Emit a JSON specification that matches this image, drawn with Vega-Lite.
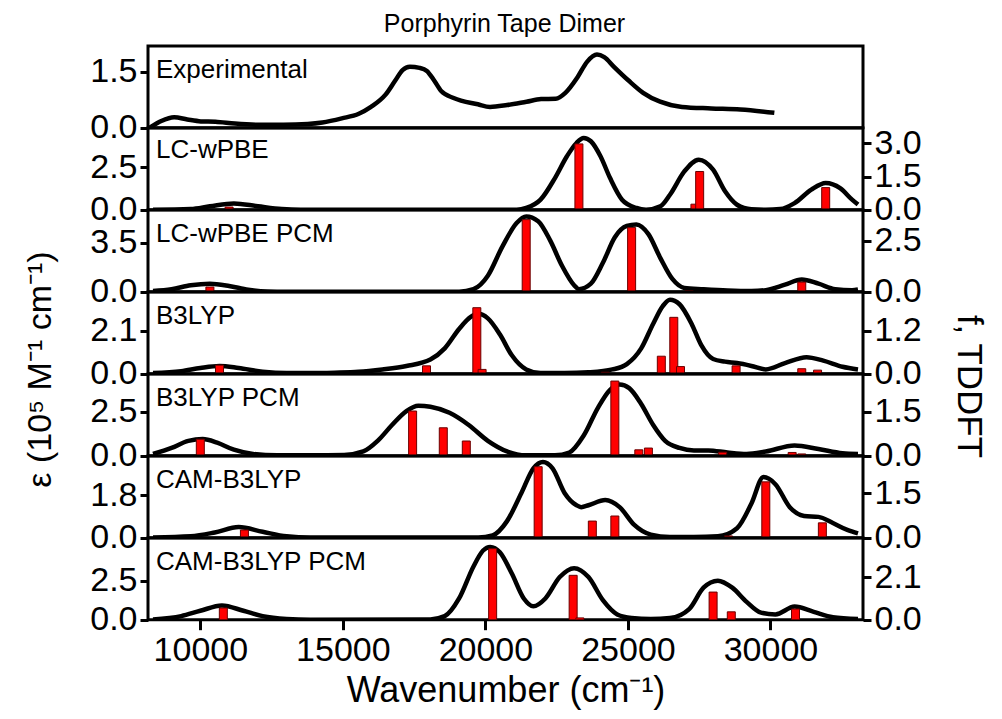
{
  "$schema": "https://vega.github.io/schema/vega-lite/v6.json",
  "background": "white",
  "autosize": {"type": "pad"},
  "padding": {"left": 22, "top": 11, "right": 0, "bottom": 0},
  "title": {"text": "Porphyrin Tape Dimer", "font": "Liberation Sans", "fontSize": 25, "fontWeight": "normal", "color": "black", "anchor": "middle", "offset": 8},
  "bounds": "flush",
  "spacing": 0,
  "config": {
    "view": {"stroke": "black", "strokeWidth": 3},
    "axis": {
      "domain": false, "grid": false,
      "labelFont": "Liberation Sans", "labelFontSize": 34, "labelColor": "black", "labelPadding": 3, "labelOverlap": false,
      "tickColor": "black", "tickWidth": 3, "tickSize": 8,
      "titleFont": "Liberation Sans", "titleFontWeight": "normal", "titleColor": "black"
    },
    "title": {"font": "Liberation Sans", "fontWeight": "normal", "color": "black"}
  },
  "datasets": {
    "exp_curve": [
      {"wn": 8400, "eps": 0.0}, {"wn": 8800, "eps": 0.18}, {"wn": 9244, "eps": 0.28}, {"wn": 9700, "eps": 0.22},
      {"wn": 10168, "eps": 0.17}, {"wn": 10673, "eps": 0.16}, {"wn": 11345, "eps": 0.11}, {"wn": 12186, "eps": 0.08},
      {"wn": 13026, "eps": 0.08}, {"wn": 13867, "eps": 0.10}, {"wn": 14371, "eps": 0.14}, {"wn": 15043, "eps": 0.25},
      {"wn": 15632, "eps": 0.375}, {"wn": 16052, "eps": 0.56}, {"wn": 16556, "eps": 0.89}, {"wn": 16892, "eps": 1.27},
      {"wn": 17144, "eps": 1.55}, {"wn": 17397, "eps": 1.64}, {"wn": 17733, "eps": 1.61}, {"wn": 17985, "eps": 1.53},
      {"wn": 18237, "eps": 1.27}, {"wn": 18489, "eps": 0.98}, {"wn": 18910, "eps": 0.80}, {"wn": 19750, "eps": 0.63},
      {"wn": 20170, "eps": 0.56}, {"wn": 20759, "eps": 0.61}, {"wn": 21431, "eps": 0.70}, {"wn": 21935, "eps": 0.77},
      {"wn": 22440, "eps": 0.78}, {"wn": 22776, "eps": 0.94}, {"wn": 23196, "eps": 1.36}, {"wn": 23532, "eps": 1.78},
      {"wn": 23868, "eps": 1.97}, {"wn": 24121, "eps": 1.90}, {"wn": 24457, "eps": 1.64}, {"wn": 24961, "eps": 1.27},
      {"wn": 25465, "eps": 0.94}, {"wn": 26053, "eps": 0.70}, {"wn": 26810, "eps": 0.56}, {"wn": 27819, "eps": 0.52},
      {"wn": 28827, "eps": 0.49}, {"wn": 30004, "eps": 0.40}
    ],
    "lc_curve": [
      {"wn": 8340, "eps": 0}, {"wn": 9664, "eps": 0.04}, {"wn": 10336, "eps": 0.2}, {"wn": 11177, "eps": 0.37},
      {"wn": 12017, "eps": 0.2}, {"wn": 12858, "eps": 0.04}, {"wn": 13530, "eps": 0}, {"wn": 21095, "eps": 0},
      {"wn": 21431, "eps": 0.1}, {"wn": 21935, "eps": 0.59}, {"wn": 22440, "eps": 1.86}, {"wn": 22860, "eps": 3.14},
      {"wn": 23196, "eps": 3.92}, {"wn": 23448, "eps": 4.21}, {"wn": 23700, "eps": 4.02}, {"wn": 24037, "eps": 3.14},
      {"wn": 24373, "eps": 1.86}, {"wn": 24793, "eps": 0.59}, {"wn": 25297, "eps": 0.1}, {"wn": 25634, "eps": 0},
      {"wn": 26138, "eps": 0.2}, {"wn": 26474, "eps": 0.88}, {"wn": 26978, "eps": 2.25}, {"wn": 27483, "eps": 2.94},
      {"wn": 27987, "eps": 2.35}, {"wn": 28407, "eps": 1.08}, {"wn": 28827, "eps": 0.29}, {"wn": 29332, "eps": 0.02},
      {"wn": 29836, "eps": 0}, {"wn": 30340, "eps": 0.04}, {"wn": 30845, "eps": 0.39}, {"wn": 31433, "eps": 1.18},
      {"wn": 31937, "eps": 1.57}, {"wn": 32442, "eps": 1.27}, {"wn": 32862, "eps": 0.59}, {"wn": 33070, "eps": 0.3}
    ],
    "lc_bars": [
      {"wn": 11009, "f": 0.12}, {"wn": 23280, "f": 2.98}, {"wn": 27350, "f": 0.25}, {"wn": 27516, "f": 1.73}, {"wn": 31937, "f": 1.0}
    ],
    "lcpcm_curve": [
      {"wn": 8340, "eps": 0.05}, {"wn": 8991, "eps": 0.18}, {"wn": 9664, "eps": 0.46}, {"wn": 10336, "eps": 0.57},
      {"wn": 11009, "eps": 0.41}, {"wn": 11681, "eps": 0.14}, {"wn": 12354, "eps": 0.02}, {"wn": 13026, "eps": 0},
      {"wn": 19077, "eps": 0}, {"wn": 19582, "eps": 0.18}, {"wn": 20086, "eps": 1.14}, {"wn": 20590, "eps": 3.2},
      {"wn": 21095, "eps": 4.9}, {"wn": 21431, "eps": 5.37}, {"wn": 21851, "eps": 5.03}, {"wn": 22271, "eps": 3.66},
      {"wn": 22692, "eps": 1.83}, {"wn": 23112, "eps": 0.46}, {"wn": 23280, "eps": 0.18}, {"wn": 23700, "eps": 0.57},
      {"wn": 24121, "eps": 2.06}, {"wn": 24541, "eps": 3.89}, {"wn": 24961, "eps": 4.69}, {"wn": 25297, "eps": 4.8},
      {"wn": 25718, "eps": 4.11}, {"wn": 26138, "eps": 2.4}, {"wn": 26558, "eps": 0.91}, {"wn": 26978, "eps": 0.27},
      {"wn": 27651, "eps": 0.18}, {"wn": 28491, "eps": 0.09}, {"wn": 29332, "eps": 0.05}, {"wn": 29836, "eps": 0.11},
      {"wn": 30509, "eps": 0.5}, {"wn": 31097, "eps": 0.87}, {"wn": 31685, "eps": 0.57}, {"wn": 32273, "eps": 0.18},
      {"wn": 32862, "eps": 0.11}, {"wn": 33070, "eps": 0.16}
    ],
    "lcpcm_bars": [
      {"wn": 10336, "f": 0.23}, {"wn": 21431, "f": 3.53}, {"wn": 25129, "f": 3.14}, {"wn": 27147, "f": 0.05}, {"wn": 31097, "f": 0.47}
    ],
    "b3_curve": [
      {"wn": 8340, "eps": 0.03}, {"wn": 9328, "eps": 0.12}, {"wn": 10000, "eps": 0.28}, {"wn": 10673, "eps": 0.38},
      {"wn": 11345, "eps": 0.28}, {"wn": 12186, "eps": 0.1}, {"wn": 13026, "eps": 0.03}, {"wn": 13867, "eps": 0.03},
      {"wn": 14707, "eps": 0.05}, {"wn": 15548, "eps": 0.09}, {"wn": 16388, "eps": 0.21}, {"wn": 17229, "eps": 0.38},
      {"wn": 18069, "eps": 0.69}, {"wn": 18573, "eps": 1.24}, {"wn": 19077, "eps": 2.19}, {"wn": 19498, "eps": 2.79},
      {"wn": 19750, "eps": 2.93}, {"wn": 20086, "eps": 2.71}, {"wn": 20507, "eps": 1.93}, {"wn": 20927, "eps": 0.9},
      {"wn": 21431, "eps": 0.21}, {"wn": 21935, "eps": 0.03}, {"wn": 22776, "eps": 0.03}, {"wn": 23616, "eps": 0.07},
      {"wn": 24457, "eps": 0.21}, {"wn": 24961, "eps": 0.47}, {"wn": 25465, "eps": 1.24}, {"wn": 25886, "eps": 2.45},
      {"wn": 26221, "eps": 3.31}, {"wn": 26474, "eps": 3.62}, {"wn": 26810, "eps": 3.4}, {"wn": 27231, "eps": 2.45},
      {"wn": 27567, "eps": 1.41}, {"wn": 27987, "eps": 0.72}, {"wn": 28407, "eps": 0.59}, {"wn": 28827, "eps": 0.52},
      {"wn": 29332, "eps": 0.38}, {"wn": 29836, "eps": 0.21}, {"wn": 30509, "eps": 0.52}, {"wn": 31265, "eps": 0.81},
      {"wn": 31853, "eps": 0.64}, {"wn": 32526, "eps": 0.34}, {"wn": 33070, "eps": 0.21}
    ],
    "b3_bars": [
      {"wn": 10673, "f": 0.24}, {"wn": 17934, "f": 0.22}, {"wn": 19699, "f": 1.85}, {"wn": 19884, "f": 0.12},
      {"wn": 24205, "f": 0.04}, {"wn": 26171, "f": 0.49}, {"wn": 26608, "f": 1.58}, {"wn": 26844, "f": 0.2},
      {"wn": 28794, "f": 0.22}, {"wn": 31097, "f": 0.14}, {"wn": 31652, "f": 0.1}
    ],
    "b3pcm_curve": [
      {"wn": 8340, "eps": 0.1}, {"wn": 8991, "eps": 0.44}, {"wn": 9580, "eps": 0.84}, {"wn": 10084, "eps": 0.94},
      {"wn": 10589, "eps": 0.74}, {"wn": 11177, "eps": 0.34}, {"wn": 11849, "eps": 0.1}, {"wn": 12690, "eps": 0.02},
      {"wn": 13867, "eps": 0.02}, {"wn": 15043, "eps": 0.04}, {"wn": 15716, "eps": 0.24}, {"wn": 16220, "eps": 0.84},
      {"wn": 16724, "eps": 1.74}, {"wn": 17229, "eps": 2.53}, {"wn": 17649, "eps": 2.83}, {"wn": 18069, "eps": 2.77},
      {"wn": 18741, "eps": 2.43}, {"wn": 19414, "eps": 1.74}, {"wn": 20086, "eps": 0.84}, {"wn": 20759, "eps": 0.24},
      {"wn": 21431, "eps": 0.02}, {"wn": 22440, "eps": 0.02}, {"wn": 22944, "eps": 0.18}, {"wn": 23448, "eps": 1.14},
      {"wn": 23952, "eps": 2.73}, {"wn": 24373, "eps": 3.73}, {"wn": 24709, "eps": 4.03}, {"wn": 25045, "eps": 3.83},
      {"wn": 25465, "eps": 2.93}, {"wn": 25886, "eps": 1.74}, {"wn": 26306, "eps": 0.84}, {"wn": 26810, "eps": 0.44},
      {"wn": 27315, "eps": 0.3}, {"wn": 27819, "eps": 0.3}, {"wn": 28491, "eps": 0.18}, {"wn": 29163, "eps": 0.1},
      {"wn": 29836, "eps": 0.24}, {"wn": 30845, "eps": 0.58}, {"wn": 31685, "eps": 0.38}, {"wn": 32526, "eps": 0.14},
      {"wn": 33070, "eps": 0.1}
    ],
    "b3pcm_bars": [
      {"wn": 10000, "f": 0.56}, {"wn": 17447, "f": 1.52}, {"wn": 18523, "f": 0.95}, {"wn": 19330, "f": 0.5},
      {"wn": 24541, "f": 2.54}, {"wn": 25381, "f": 0.2}, {"wn": 25718, "f": 0.26}, {"wn": 28323, "f": 0.12},
      {"wn": 30760, "f": 0.11}, {"wn": 31097, "f": 0.06}
    ],
    "cam_curve": [
      {"wn": 8340, "eps": 0.01}, {"wn": 9664, "eps": 0.06}, {"wn": 10505, "eps": 0.22}, {"wn": 11345, "eps": 0.45},
      {"wn": 12186, "eps": 0.25}, {"wn": 13026, "eps": 0.06}, {"wn": 13867, "eps": 0.01}, {"wn": 19750, "eps": 0.01},
      {"wn": 20254, "eps": 0.1}, {"wn": 20759, "eps": 0.7}, {"wn": 21263, "eps": 1.89}, {"wn": 21683, "eps": 2.93},
      {"wn": 22019, "eps": 3.2}, {"wn": 22356, "eps": 2.93}, {"wn": 22776, "eps": 1.89}, {"wn": 23196, "eps": 1.37},
      {"wn": 23364, "eps": 1.29}, {"wn": 23616, "eps": 1.37}, {"wn": 24205, "eps": 1.59}, {"wn": 24709, "eps": 1.29},
      {"wn": 25213, "eps": 0.55}, {"wn": 25802, "eps": 0.13}, {"wn": 26474, "eps": 0.03}, {"wn": 27315, "eps": 0.03},
      {"wn": 28155, "eps": 0.06}, {"wn": 28827, "eps": 0.4}, {"wn": 29332, "eps": 1.44}, {"wn": 29752, "eps": 2.56},
      {"wn": 30172, "eps": 2.26}, {"wn": 30677, "eps": 1.29}, {"wn": 31181, "eps": 0.92}, {"wn": 31685, "eps": 0.88},
      {"wn": 32189, "eps": 0.62}, {"wn": 32694, "eps": 0.33}, {"wn": 33070, "eps": 0.18}
    ],
    "cam_bars": [
      {"wn": 11547, "f": 0.26}, {"wn": 21851, "f": 2.39}, {"wn": 23751, "f": 0.56}, {"wn": 24541, "f": 0.73},
      {"wn": 28525, "f": 0.06}, {"wn": 29836, "f": 1.88}, {"wn": 31820, "f": 0.5}
    ],
    "campcm_curve": [
      {"wn": 8340, "eps": 0.02}, {"wn": 9328, "eps": 0.23}, {"wn": 10000, "eps": 0.57}, {"wn": 10757, "eps": 0.91},
      {"wn": 11513, "eps": 0.57}, {"wn": 12186, "eps": 0.23}, {"wn": 13026, "eps": 0.05}, {"wn": 13867, "eps": 0},
      {"wn": 18069, "eps": 0.02}, {"wn": 18573, "eps": 0.23}, {"wn": 19077, "eps": 1.36}, {"wn": 19582, "eps": 3.41},
      {"wn": 19918, "eps": 4.43}, {"wn": 20170, "eps": 4.66}, {"wn": 20507, "eps": 4.32}, {"wn": 20927, "eps": 2.96},
      {"wn": 21347, "eps": 1.36}, {"wn": 21683, "eps": 0.86}, {"wn": 22103, "eps": 1.36}, {"wn": 22608, "eps": 2.73},
      {"wn": 23112, "eps": 3.3}, {"wn": 23616, "eps": 2.73}, {"wn": 24121, "eps": 1.25}, {"wn": 24625, "eps": 0.34},
      {"wn": 25129, "eps": 0.11}, {"wn": 25802, "eps": 0.05}, {"wn": 26474, "eps": 0.11}, {"wn": 27147, "eps": 0.68},
      {"wn": 27651, "eps": 2.05}, {"wn": 28155, "eps": 2.5}, {"wn": 28659, "eps": 2.05}, {"wn": 29163, "eps": 1.14},
      {"wn": 29668, "eps": 0.45}, {"wn": 30172, "eps": 0.34}, {"wn": 30845, "eps": 0.84}, {"wn": 31517, "eps": 0.5},
      {"wn": 32189, "eps": 0.16}, {"wn": 33070, "eps": 0.05}
    ],
    "campcm_bars": [
      {"wn": 10807, "f": 0.58}, {"wn": 20254, "f": 3.52}, {"wn": 23078, "f": 2.2}, {"wn": 23314, "f": 0.09},
      {"wn": 27987, "f": 1.37}, {"wn": 28625, "f": 0.39}, {"wn": 30878, "f": 0.53}
    ]
  },
  "vconcat": [
    {
      "width": 715, "height": 81.7,
      "title": {"text": "Experimental", "anchor": "start", "frame": "group", "orient": "top", "baseline": "top", "offset": -37, "dx": 8, "fontSize": 26},
      "data": {"name": "exp_curve"},
      "mark": {"type": "line", "color": "black", "strokeWidth": 4.5, "interpolate": "monotone", "clip": true},
      "encoding": {
        "x": {"field": "wn", "type": "quantitative", "scale": {"domain": [8340, 33070], "nice": false, "zero": false}, "axis": null},
        "y": {"field": "eps", "type": "quantitative", "scale": {"domain": [0, 2.2], "nice": false},
              "axis": {"values": [0, 1.5], "format": ".1f", "title": "ε (10⁵ M⁻¹ cm⁻¹)", "titleFontSize": 34, "titlePadding": 32, "titleY": 323}}
      }
    },
    {
      "width": 715, "height": 81.7,
      "title": {"text": "LC-wPBE", "anchor": "start", "frame": "group", "orient": "top", "baseline": "top", "offset": -37, "dx": 8, "fontSize": 26},
      "layer": [
        {
          "data": {"name": "lc_curve"},
          "mark": {"type": "line", "color": "black", "strokeWidth": 4.5, "interpolate": "monotone", "clip": true},
          "encoding": {
            "x": {"field": "wn", "type": "quantitative", "scale": {"domain": [8340, 33070], "nice": false, "zero": false}, "axis": null},
            "y": {"field": "eps", "type": "quantitative", "scale": {"domain": [0, 4.8], "nice": false}, "axis": {"values": [0, 2.5], "format": ".1f", "title": null}}
          }
        },
        {
          "data": {"name": "lc_bars"},
          "mark": {"type": "bar", "fill": "#ff0000", "stroke": "#6b0000", "strokeWidth": 1, "width": 8, "clip": true},
          "encoding": {
            "x": {"field": "wn", "type": "quantitative", "scale": {"domain": [8340, 33070], "nice": false, "zero": false}, "axis": null},
            "y": {"field": "f", "type": "quantitative", "scale": {"domain": [0, 3.7], "nice": false},
                  "axis": {"orient": "right", "values": [0, 1.5, 3], "format": ".1f", "title": "f, TDDFT", "titleFontSize": 35, "titlePadding": 29, "titleY": 258}}
          }
        }
      ],
      "resolve": {"scale": {"y": "independent"}}
    },
    {
      "width": 715, "height": 81.7,
      "title": {"text": "LC-wPBE PCM", "anchor": "start", "frame": "group", "orient": "top", "baseline": "top", "offset": -37, "dx": 8, "fontSize": 26},
      "layer": [
        {
          "data": {"name": "lcpcm_curve"},
          "mark": {"type": "line", "color": "black", "strokeWidth": 4.5, "interpolate": "monotone", "clip": true},
          "encoding": {
            "x": {"field": "wn", "type": "quantitative", "scale": {"domain": [8340, 33070], "nice": false, "zero": false}, "axis": null},
            "y": {"field": "eps", "type": "quantitative", "scale": {"domain": [0, 5.83], "nice": false}, "axis": {"values": [0, 3.5], "format": ".1f", "title": null}}
          }
        },
        {
          "data": {"name": "lcpcm_bars"},
          "mark": {"type": "bar", "fill": "#ff0000", "stroke": "#6b0000", "strokeWidth": 1, "width": 8, "clip": true},
          "encoding": {
            "x": {"field": "wn", "type": "quantitative", "scale": {"domain": [8340, 33070], "nice": false, "zero": false}, "axis": null},
            "y": {"field": "f", "type": "quantitative", "scale": {"domain": [0, 4.0], "nice": false}, "axis": {"orient": "right", "values": [0, 2.5], "format": ".1f", "title": null}}
          }
        }
      ],
      "resolve": {"scale": {"y": "independent"}}
    },
    {
      "width": 715, "height": 81.7,
      "title": {"text": "B3LYP", "anchor": "start", "frame": "group", "orient": "top", "baseline": "top", "offset": -37, "dx": 8, "fontSize": 26},
      "layer": [
        {
          "data": {"name": "b3_curve"},
          "mark": {"type": "line", "color": "black", "strokeWidth": 4.5, "interpolate": "monotone", "clip": true},
          "encoding": {
            "x": {"field": "wn", "type": "quantitative", "scale": {"domain": [8340, 33070], "nice": false, "zero": false}, "axis": null},
            "y": {"field": "eps", "type": "quantitative", "scale": {"domain": [0, 4.0], "nice": false}, "axis": {"values": [0, 2.1], "format": ".1f", "title": null}}
          }
        },
        {
          "data": {"name": "b3_bars"},
          "mark": {"type": "bar", "fill": "#ff0000", "stroke": "#6b0000", "strokeWidth": 1, "width": 8, "clip": true},
          "encoding": {
            "x": {"field": "wn", "type": "quantitative", "scale": {"domain": [8340, 33070], "nice": false, "zero": false}, "axis": null},
            "y": {"field": "f", "type": "quantitative", "scale": {"domain": [0, 2.29], "nice": false}, "axis": {"orient": "right", "values": [0, 1.2], "format": ".1f", "title": null}}
          }
        }
      ],
      "resolve": {"scale": {"y": "independent"}}
    },
    {
      "width": 715, "height": 81.7,
      "title": {"text": "B3LYP PCM", "anchor": "start", "frame": "group", "orient": "top", "baseline": "top", "offset": -37, "dx": 8, "fontSize": 26},
      "layer": [
        {
          "data": {"name": "b3pcm_curve"},
          "mark": {"type": "line", "color": "black", "strokeWidth": 4.5, "interpolate": "monotone", "clip": true},
          "encoding": {
            "x": {"field": "wn", "type": "quantitative", "scale": {"domain": [8340, 33070], "nice": false, "zero": false}, "axis": null},
            "y": {"field": "eps", "type": "quantitative", "scale": {"domain": [0, 4.63], "nice": false}, "axis": {"values": [0, 2.5], "format": ".1f", "title": null}}
          }
        },
        {
          "data": {"name": "b3pcm_bars"},
          "mark": {"type": "bar", "fill": "#ff0000", "stroke": "#6b0000", "strokeWidth": 1, "width": 8, "clip": true},
          "encoding": {
            "x": {"field": "wn", "type": "quantitative", "scale": {"domain": [8340, 33070], "nice": false, "zero": false}, "axis": null},
            "y": {"field": "f", "type": "quantitative", "scale": {"domain": [0, 2.78], "nice": false}, "axis": {"orient": "right", "values": [0, 1.5], "format": ".1f", "title": null}}
          }
        }
      ],
      "resolve": {"scale": {"y": "independent"}}
    },
    {
      "width": 715, "height": 81.7,
      "title": {"text": "CAM-B3LYP", "anchor": "start", "frame": "group", "orient": "top", "baseline": "top", "offset": -37, "dx": 8, "fontSize": 26},
      "layer": [
        {
          "data": {"name": "cam_curve"},
          "mark": {"type": "line", "color": "black", "strokeWidth": 4.5, "interpolate": "monotone", "clip": true},
          "encoding": {
            "x": {"field": "wn", "type": "quantitative", "scale": {"domain": [8340, 33070], "nice": false, "zero": false}, "axis": null},
            "y": {"field": "eps", "type": "quantitative", "scale": {"domain": [0, 3.45], "nice": false}, "axis": {"values": [0, 1.8], "format": ".1f", "title": null}}
          }
        },
        {
          "data": {"name": "cam_bars"},
          "mark": {"type": "bar", "fill": "#ff0000", "stroke": "#6b0000", "strokeWidth": 1, "width": 8, "clip": true},
          "encoding": {
            "x": {"field": "wn", "type": "quantitative", "scale": {"domain": [8340, 33070], "nice": false, "zero": false}, "axis": null},
            "y": {"field": "f", "type": "quantitative", "scale": {"domain": [0, 2.75], "nice": false}, "axis": {"orient": "right", "values": [0, 1.5], "format": ".1f", "title": null}}
          }
        }
      ],
      "resolve": {"scale": {"y": "independent"}}
    },
    {
      "width": 715, "height": 81.7,
      "title": {"text": "CAM-B3LYP PCM", "anchor": "start", "frame": "group", "orient": "top", "baseline": "top", "offset": -37, "dx": 8, "fontSize": 26},
      "layer": [
        {
          "data": {"name": "campcm_curve"},
          "mark": {"type": "line", "color": "black", "strokeWidth": 4.5, "interpolate": "monotone", "clip": true},
          "encoding": {
            "x": {"field": "wn", "type": "quantitative", "scale": {"domain": [8340, 33070], "nice": false, "zero": false},
                  "axis": {"values": [10000, 15000, 20000, 25000, 30000], "format": "d", "tickSize": 10, "labelPadding": 4, "title": "Wavenumber (cm⁻¹)", "titleFontSize": 36, "titlePadding": 6}},
            "y": {"field": "eps", "type": "quantitative", "scale": {"domain": [0, 5.23], "nice": false}, "axis": {"values": [0, 2.5], "format": ".1f", "title": null}}
          }
        },
        {
          "data": {"name": "campcm_bars"},
          "mark": {"type": "bar", "fill": "#ff0000", "stroke": "#6b0000", "strokeWidth": 1, "width": 8, "clip": true},
          "encoding": {
            "x": {"field": "wn", "type": "quantitative", "scale": {"domain": [8340, 33070], "nice": false, "zero": false},
                  "axis": {"values": [10000, 15000, 20000, 25000, 30000], "format": "d", "tickSize": 10, "labelPadding": 4, "title": "Wavenumber (cm⁻¹)", "titleFontSize": 36, "titlePadding": 6}},
            "y": {"field": "f", "type": "quantitative", "scale": {"domain": [0, 4.05], "nice": false}, "axis": {"orient": "right", "values": [0, 2.1], "format": ".1f", "title": null}}
          }
        }
      ],
      "resolve": {"scale": {"y": "independent"}}
    }
  ]
}
